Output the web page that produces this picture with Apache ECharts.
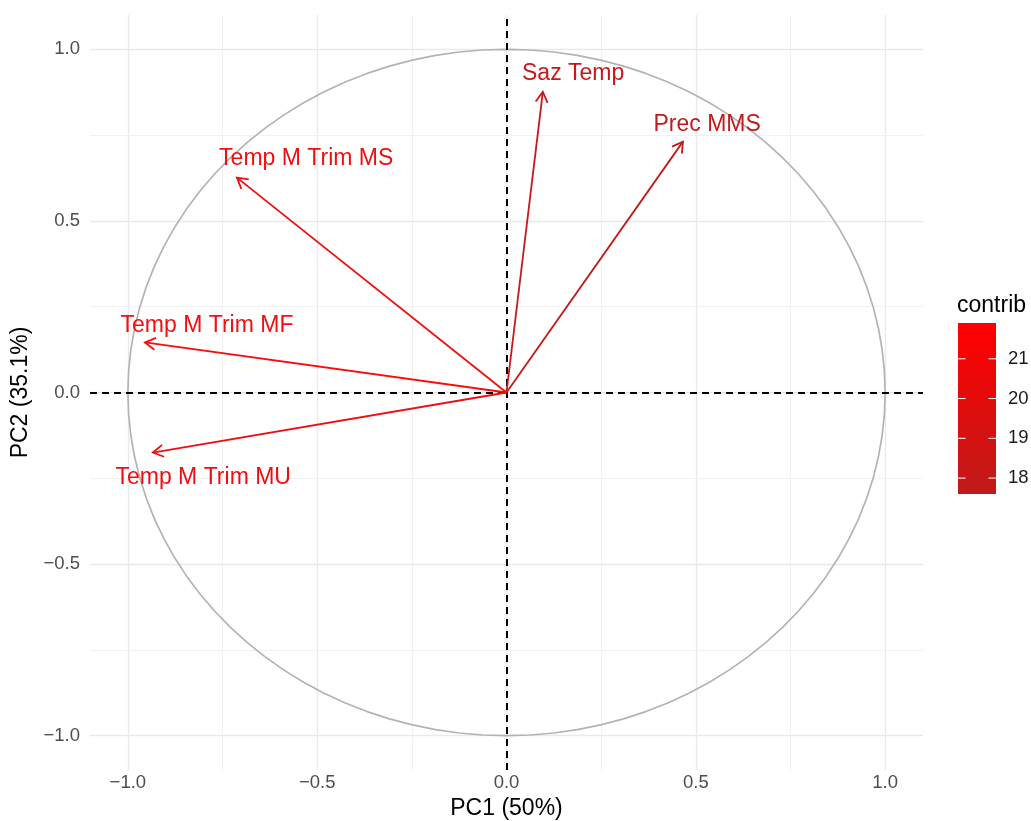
<!DOCTYPE html>
<html>
<head>
<meta charset="utf-8">
<script src="https://cdn.jsdelivr.net/npm/echarts@6.0.0/dist/echarts.min.js"></script>
<style>
html,body{margin:0;padding:0;background:#fff;overflow:hidden;}
#chart{width:1031px;height:821px;}
</style>
</head>
<body>
<div id="chart"></div>
<script>
// ---- data ----
const variables = ['Saz Temp', 'Prec MMS', 'Temp M Trim MS', 'Temp M Trim MF', 'Temp M Trim MU'];
const pc1 = [0.096, 0.466, -0.712, -0.955, -0.934];
const pc2 = [0.876, 0.731, 0.626, 0.146, -0.175];
const contrib = [18.3, 17.6, 21.3, 21.9, 21.2];
const labelX = [0.176, 0.530, -0.529, -0.791, -0.801];
const labelY = [0.929, 0.781, 0.681, 0.195, -0.247];
const xTicks = [-1.0, -0.5, 0.0, 0.5, 1.0];
const yTicks = [-1.0, -0.5, 0.0, 0.5, 1.0];
const minorTicks = [-0.75, -0.25, 0.25, 0.75];
const legendTicks = [18, 19, 20, 21];
const xTitle = 'PC1 (50%)';
const yTitle = 'PC2 (35.1%)';
const legendTitle = 'contrib';

// ---- styling ----
const FONT = '"Liberation Sans", Arial, Helvetica, sans-serif';
const LOW = [192, 26, 26];
const HIGH = [248, 12, 12];
const cMin = Math.min(...contrib);
const cMax = Math.max(...contrib);
function colorFor(v) {
  const t = Math.max(0, Math.min(1, (v - cMin) / (cMax - cMin)));
  const c = LOW.map((l, k) => Math.round(l + (HIGH[k] - l) * t));
  return 'rgb(' + c.join(',') + ')';
}
function fmt(v) {
  const s = Math.abs(v).toFixed(1);
  return v < 0 ? '\u2212' + s : s;
}

// unit circle (geometric reference)
const circle = [];
for (let k = 0; k <= 100; k++) {
  const a = 2 * Math.PI * k / 100;
  circle.push([Math.cos(a), Math.sin(a)]);
}

const gridLines = [];
xTicks.forEach(v => gridLines.push({ xAxis: v, lineStyle: { color: '#e9e9e9', width: 1.4, type: 'solid' } }));
minorTicks.forEach(v => gridLines.push({ xAxis: v, lineStyle: { color: '#f1f1f1', width: 1, type: 'solid' } }));
yTicks.forEach(v => gridLines.push({ yAxis: v, lineStyle: { color: '#e9e9e9', width: 1.4, type: 'solid' } }));
minorTicks.forEach(v => gridLines.push({ yAxis: v, lineStyle: { color: '#f1f1f1', width: 1, type: 'solid' } }));

const chart = echarts.init(document.getElementById('chart'), null, { renderer: 'canvas' });

const option = {
  animation: false,
  backgroundColor: '#ffffff',
  title: {
    text: legendTitle,
    left: 952,
    top: 289,
    textStyle: { fontFamily: FONT, fontSize: 23, fontWeight: 'normal', color: '#000' }
  },
  grid: [
    { left: 90, right: 108, top: 15, bottom: 51, outerBoundsMode: 'none', containLabel: false },
    { left: 958, top: 323, width: 38, height: 171, outerBoundsMode: 'none', containLabel: false }
  ],
  xAxis: [
    {
      type: 'value', min: -1.1, max: 1.1,
      name: xTitle, nameLocation: 'middle', nameGap: 14,
      nameTextStyle: { fontFamily: FONT, fontSize: 23, color: '#000' },
      axisLine: { show: false }, axisTick: { show: false }, splitLine: { show: false },
      axisLabel: { customValues: xTicks, formatter: fmt, margin: 3, fontFamily: FONT, fontSize: 18.5, color: '#4d4d4d' }
    },
    { type: 'value', gridIndex: 1, min: 0, max: 1, show: false }
  ],
  yAxis: [
    {
      type: 'value', min: -1.1, max: 1.1,
      name: yTitle, nameLocation: 'middle', nameGap: 47,
      nameTextStyle: { fontFamily: FONT, fontSize: 23, color: '#000' },
      axisLine: { show: false }, axisTick: { show: false }, splitLine: { show: false },
      axisLabel: { customValues: yTicks, formatter: fmt, margin: 10, fontFamily: FONT, fontSize: 18.5, color: '#4d4d4d' }
    },
    {
      type: 'value', gridIndex: 1, min: cMin, max: cMax, position: 'right',
      axisLine: { show: false }, axisTick: { show: false }, splitLine: { show: false },
      axisLabel: { customValues: legendTicks, margin: 12, fontFamily: FONT, fontSize: 18.5, color: '#1a1a1a' }
    }
  ],
  series: [
    {
      name: 'grid', type: 'line', data: [], silent: true, z: 1,
      markLine: { silent: true, z: 1, symbol: ['none', 'none'], label: { show: false }, emphasis: { disabled: true }, data: gridLines }
    },
    {
      name: 'circle', type: 'line', data: circle, showSymbol: false, silent: true, z: 2,
      lineStyle: { color: '#b3b3b3', width: 1.7 }
    },
    {
      name: 'zero', type: 'line', data: [], silent: true, z: 3,
      markLine: {
        silent: true, z: 3, symbol: ['none', 'none'], label: { show: false }, emphasis: { disabled: true },
        lineStyle: { color: '#000', width: 2, type: [7, 5] },
        data: [{ xAxis: 0 }, { yAxis: 0 }]
      }
    },
    {
      name: 'vars', type: 'custom', z: 4, silent: true,
      data: variables.map((v, i) => [pc1[i], pc2[i], labelX[i], labelY[i], contrib[i]]),
      encode: { x: 0, y: 1 },
      renderItem: function (params, api) {
        const i = params.dataIndex;
        const o = api.coord([0, 0]);
        const p = api.coord([api.value(0), api.value(1)]);
        const lp = api.coord([api.value(2), api.value(3)]);
        const col = colorFor(api.value(4));
        const ang = Math.atan2(p[1] - o[1], p[0] - o[0]);
        const L = 12, a = Math.PI / 6;
        const h1 = [p[0] - L * Math.cos(ang - a), p[1] - L * Math.sin(ang - a)];
        const h2 = [p[0] - L * Math.cos(ang + a), p[1] - L * Math.sin(ang + a)];
        return {
          type: 'group',
          children: [
            { type: 'line', shape: { x1: o[0], y1: o[1], x2: p[0], y2: p[1] }, style: { stroke: col, lineWidth: 1.8 } },
            { type: 'polyline', shape: { points: [h1, p, h2] }, style: { stroke: col, lineWidth: 1.8, fill: 'none' } },
            { type: 'text', style: { text: variables[i], x: lp[0], y: lp[1], align: 'center', verticalAlign: 'middle', fill: col, font: '23px ' + FONT } }
          ]
        };
      }
    },
    {
      name: 'colorbar', type: 'custom', xAxisIndex: 1, yAxisIndex: 1, silent: true,
      data: [[0, cMin]],
      renderItem: function (params, api) {
        const tl = api.coord([0, cMax]);
        const br = api.coord([1, cMin]);
        const w = br[0] - tl[0];
        const children = [{
          type: 'rect',
          shape: { x: tl[0], y: tl[1], width: w, height: br[1] - tl[1] },
          style: {
            fill: new echarts.graphic.LinearGradient(0, 0, 0, 1, [
              { offset: 0, color: 'rgb(255,0,0)' },
              { offset: 1, color: colorFor(cMin) }
            ])
          }
        }];
        legendTicks.forEach(t => {
          const y = api.coord([0, t])[1];
          children.push({ type: 'line', shape: { x1: tl[0], y1: y, x2: tl[0] + w / 5, y2: y }, style: { stroke: '#ffffff', lineWidth: 1 } });
          children.push({ type: 'line', shape: { x1: br[0] - w / 5, y1: y, x2: br[0], y2: y }, style: { stroke: '#ffffff', lineWidth: 1 } });
        });
        return { type: 'group', children: children };
      }
    }
  ]
};
chart.setOption(option);
</script>
</body>
</html>
